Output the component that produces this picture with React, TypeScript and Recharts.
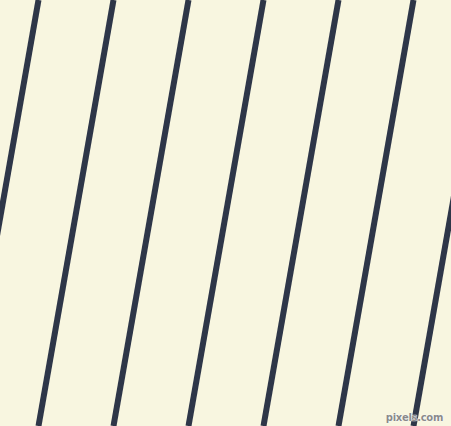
import { LineChart, Line, XAxis, YAxis } from 'recharts';

// top and bottom x of each stripe (px in a 451x426 frame)
const topX = [38.5, 113.5, 188.5, 263.5, 338.5, 413.5, 488.5];
const bottomX = [-36.5, 38.5, 113.5, 188.5, 263.5, 338.5, 413.5];
const frameW = 451;
const frameH = 426;

const stripes = topX.map((t, i) => [
  { x: t, y: frameH },
  { x: bottomX[i], y: 0 },
]);

export default function App() {
  return (
    <div
      style={{
        position: 'fixed',
        top: 0,
        left: 0,
        width: frameW,
        height: frameH,
        background: '#f8f6e0',
        overflow: 'hidden',
      }}
    >
      <LineChart width={frameW} height={frameH} margin={{ top: 0, right: 0, bottom: 0, left: 0 }}>
        <XAxis type="number" dataKey="x" domain={[0, frameW]} allowDataOverflow hide />
        <YAxis type="number" dataKey="y" domain={[0, frameH]} allowDataOverflow hide />
        {stripes.map((d, i) => (
          <Line
            key={i}
            data={d}
            dataKey="y"
            stroke="#2e3648"
            strokeWidth={6}
            dot={false}
            activeDot={false}
            isAnimationActive={false}
          />
        ))}
      </LineChart>
      <div
        style={{
          position: 'absolute',
          right: 8,
          bottom: 3,
          fontFamily: 'DejaVu Sans, sans-serif',
          fontSize: 10,
          fontWeight: 'bold',
          color: '#8a8a8a',
          textShadow: '0 0 1px #fff, 0 0 1px #fff, 0 0 1px #fff',
          letterSpacing: -0.3,
        }}
      >
        pixels.com
      </div>
    </div>
  );
}
